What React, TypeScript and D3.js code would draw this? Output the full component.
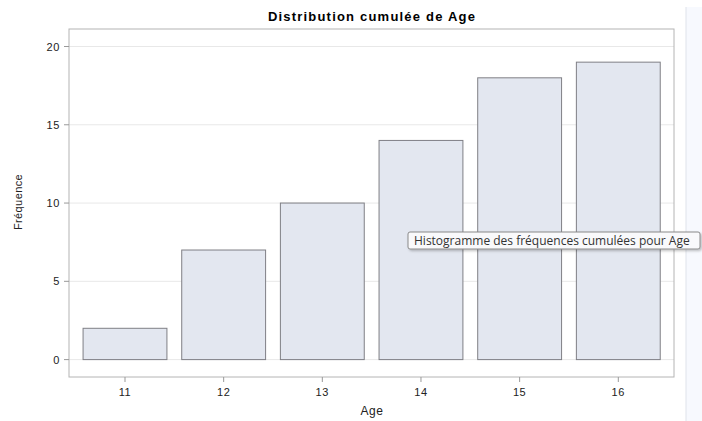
import React from "react";
import * as d3 from "d3";

const ages = ["11", "12", "13", "14", "15", "16"];
const cumFreq = [2, 7, 10, 14, 18, 19];
const yTicks = [0, 5, 10, 15, 20];
const title = "Distribution cumulée de Age";
const xLabel = "Age";
const yLabel = "Fréquence";
const tooltipText = "Histogramme des fréquences cumulées pour Age";

export default function App() {
  const W = 702, H = 421;
  const frame = { left: 69, top: 29, right: 674, bottom: 377 };
  const x = d3.scalePoint<string>().domain(ages).range([125, 618.3]);
  const step = x.step();
  const bw = step * 0.85;
  const y = d3.scaleLinear().domain([0, 20]).range([359.6, 46.5]);
  const font = "'Liberation Sans', Arial, sans-serif";
  return (
    <svg width={W} height={H} style={{ position: "absolute", left: 0, top: 0, display: "block" }}>
      <defs>
        <filter id="sh" x="-5%" y="-30%" width="115%" height="180%">
          <feDropShadow dx="1.5" dy="1.5" stdDeviation="1.2" floodColor="#000" floodOpacity="0.25" />
        </filter>
      </defs>
      <rect x={0} y={0} width={W} height={H} fill="#fff" />
      {/* right side panel */}
      <rect x={686} y={7} width={16} height={H - 7} fill="#f7f9fe" />
      <line x1={686} x2={686} y1={7} y2={H} stroke="#dfe3ea" strokeWidth={1} />
      <text x={372} y={21} textAnchor="middle" fontFamily={font} fontWeight="bold" fontSize={13} letterSpacing={1.2} fill="#000">{title}</text>
      {/* gridlines */}
      {yTicks.map((t) => (
        <line key={"g" + t} x1={frame.left} x2={frame.right} y1={y(t)} y2={y(t)} stroke="#e8e8e8" strokeWidth={1} />
      ))}
      {/* bars */}
      {ages.map((a, i) => (
        <rect key={a} x={(x(a) as number) - bw / 2} y={y(cumFreq[i])} width={bw} height={y(0) - y(cumFreq[i])}
          fill="#e3e7f0" stroke="#7f7f85" strokeWidth={1} />
      ))}
      {/* frame */}
      <rect x={frame.left} y={frame.top} width={frame.right - frame.left} height={frame.bottom - frame.top}
        fill="none" stroke="#b4b4b4" strokeWidth={1} />
      {/* y ticks */}
      {yTicks.map((t) => (
        <g key={"y" + t}>
          <line x1={frame.left - 5} x2={frame.left} y1={y(t)} y2={y(t)} stroke="#999" />
          <text x={frame.left - 9} y={y(t) + 4} textAnchor="end" fontFamily={font} fontSize={11} letterSpacing={0.6} fill="#222">{t}</text>
        </g>
      ))}
      {/* x ticks */}
      {ages.map((a) => (
        <g key={"x" + a}>
          <line x1={x(a)} x2={x(a)} y1={frame.bottom} y2={frame.bottom + 5} stroke="#999" />
          <text x={x(a)} y={frame.bottom + 19} textAnchor="middle" fontFamily={font} fontSize={11} letterSpacing={0.6} fill="#222">{a}</text>
        </g>
      ))}
      <text x={372} y={415} textAnchor="middle" fontFamily={font} fontSize={12} letterSpacing={0.6} fill="#222">{xLabel}</text>
      <text transform="translate(22,202) rotate(-90)" textAnchor="middle" fontFamily={font} fontSize={11} letterSpacing={0.4} fill="#222">{yLabel}</text>
      {/* tooltip */}
      <g filter="url(#sh)">
        <rect x={408} y={232} width={292} height={17} rx={2} fill="#f9f9fb" stroke="#8a8a8a" strokeWidth={1} />
      </g>
      <text x={414} y={245} fontFamily="'Open Sans', 'Noto Sans', sans-serif" fontSize={12} fill="#333">{tooltipText}</text>
    </svg>
  );
}
